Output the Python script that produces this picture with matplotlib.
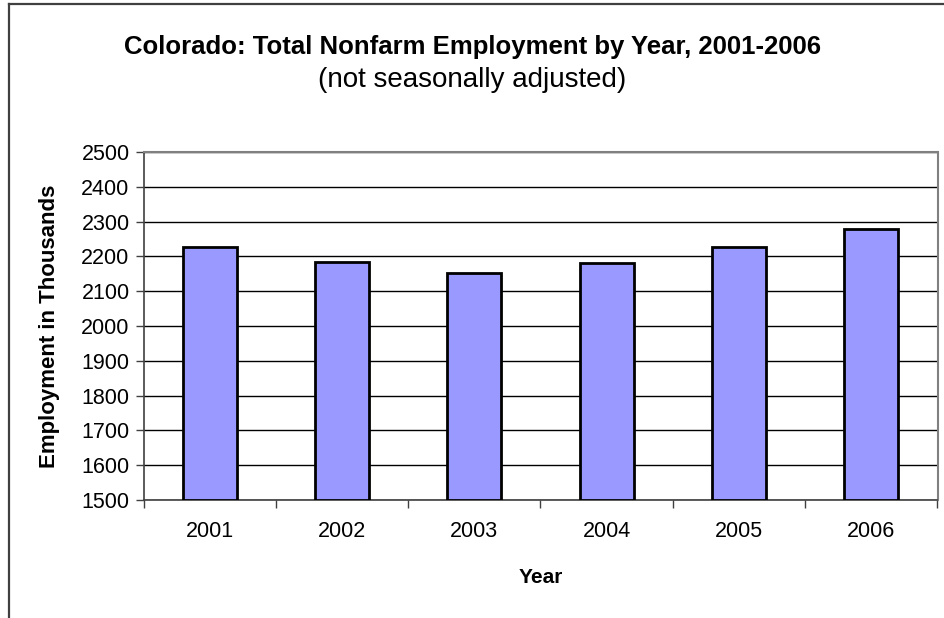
import matplotlib
matplotlib.use("Agg")
import matplotlib.pyplot as plt
from matplotlib.lines import Line2D

plt.rcParams['font.family'] = ['Liberation Sans', 'DejaVu Sans']

years = ["2001", "2002", "2003", "2004", "2005", "2006"]
employment = [2226, 2184, 2153, 2180, 2226, 2278]
y_ticks = [1500, 1600, 1700, 1800, 1900, 2000, 2100, 2200, 2300, 2400, 2500]

W, H = 944, 618
fig = plt.figure(figsize=(W / 100, H / 100), dpi=100)
ax = fig.add_axes([143.5 / W, 1 - 500 / H, (937.5 - 143.5) / W, (500 - 152) / H])

x = list(range(len(years)))
ax.set_axisbelow(True)
ax.yaxis.grid(True, color='black', linewidth=1.0)
ax.bar(x, [v - y_ticks[0] for v in employment], bottom=y_ticks[0], width=0.41,
       color='#9999FF', edgecolor='black', linewidth=2.0, zorder=3)

ax.set_xlim(-0.5, len(years) - 0.5)
ax.set_ylim(y_ticks[0], y_ticks[-1])
ax.set_yticks(y_ticks)
ax.set_yticklabels([str(t) for t in y_ticks], fontsize=15.5)

# category labels centred on bars, tick marks on the category boundaries
ax.set_xticks([i - 0.5 for i in range(len(years) + 1)])
ax.set_xticklabels([])
ax.set_xticks(x, minor=True)
ax.set_xticklabels(years, minor=True, fontsize=15.5)
ax.tick_params(axis='x', which='minor', length=0, pad=15)
ax.tick_params(axis='x', which='major', length=6, width=1, color='#404040', direction='out')
ax.tick_params(axis='y', length=6, width=1, color='#404040', direction='out', pad=4)

for side in ('left', 'bottom'):
    ax.spines[side].set_color('#404040')
    ax.spines[side].set_linewidth(1.2)
for side in ('top', 'right'):
    ax.spines[side].set_color('#808080')
    ax.spines[side].set_linewidth(1.5)

ax.set_xlabel("Year", fontsize=15, fontweight='bold', labelpad=19)
ax.set_ylabel("Employment in Thousands", fontsize=16, fontweight='bold', labelpad=15)

fig.text(0.5, 1 - 47 / H, "Colorado: Total Nonfarm Employment by Year, 2001-2006",
         ha='center', va='center', fontsize=18.5, fontweight='bold')
fig.text(0.5, 1 - 80 / H, "(not seasonally adjusted)",
         ha='center', va='center', fontsize=20)

# chart frame (left and top edges)
fig.add_artist(Line2D([9 / W, 9 / W], [0, 1 - 4 / H], transform=fig.transFigure,
                      color='#404040', linewidth=1.6))
fig.add_artist(Line2D([9 / W, 1], [1 - 4 / H, 1 - 4 / H], transform=fig.transFigure,
                      color='#404040', linewidth=1.6))

fig.savefig("out.png", dpi=100)
